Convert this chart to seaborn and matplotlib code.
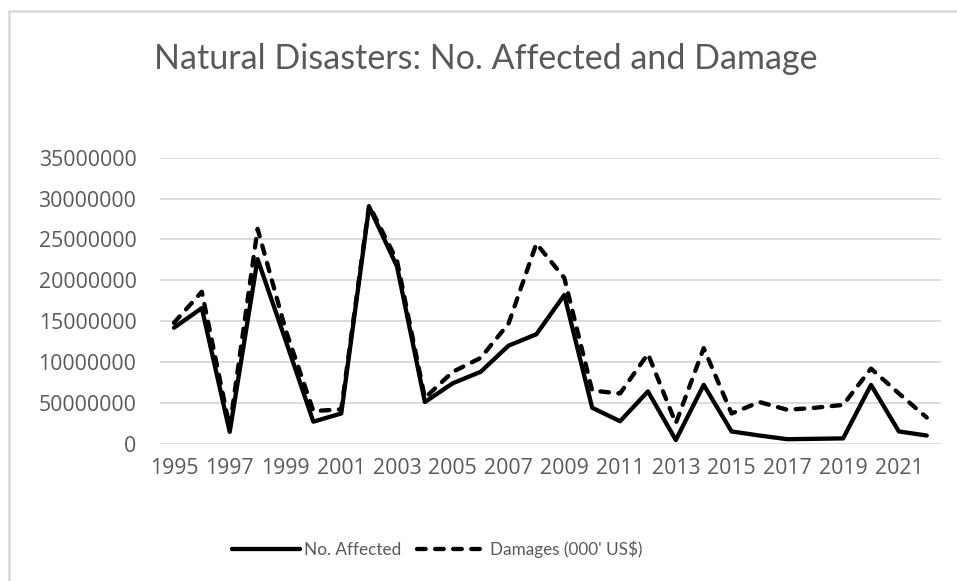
import matplotlib
matplotlib.use("Agg")
import matplotlib.pyplot as plt
from matplotlib.patches import Rectangle
import seaborn as sns
import pandas as pd

years = list(range(1995, 2023))
affected = [14.2, 16.6, 1.45, 22.6, 12.7, 2.7, 3.7, 29.0, 21.7, 5.1,
            7.4, 8.8, 12.0, 13.4, 18.2, 4.4, 2.75, 6.4, 0.45, 7.2,
            1.5, 1.0, 0.55, 0.6, 0.65, 7.2, 1.5, 1.0]
damages = [14.8, 18.6, 2.0, 26.3, 14.0, 4.0, 4.2, 29.2, 22.4, 5.6,
           8.8, 10.5, 14.7, 24.5, 20.3, 6.5, 6.15, 11.0, 2.5, 11.7,
           3.7, 5.1, 4.15, 4.4, 4.75, 9.2, 6.15, 3.2]
series_names = ["No. Affected", "Damages (000' US$)"]
title = "Natural Disasters: No. Affected and Damage"
ytick_values = [0, 5, 10, 15, 20, 25, 30, 35]
ytick_labels = ["0", "50000000", "10000000", "15000000", "20000000",
                "25000000", "30000000", "35000000"]

df = pd.DataFrame({
    "year": years * 2,
    "value": [v * 1e6 for v in affected] + [v * 1e6 for v in damages],
    "series": [series_names[0]] * len(years) + [series_names[1]] * len(years),
})

sns.set_theme(style="white")
plt.rcParams["font.family"] = ["Lato", "DejaVu Sans"]
text_color = "#595959"
grid_color = "#d9d9d9"
tick_font = ["Open Sans", "DejaVu Sans"]

fig = plt.figure(figsize=(9.57, 5.81), dpi=100)
ax = fig.add_axes([160 / 957, 137.3 / 581, 780.7 / 957, 285.9 / 581])

sns.lineplot(
    data=df, x="year", y="value", hue="series", style="series",
    palette={series_names[0]: "black", series_names[1]: "black"},
    dashes={series_names[0]: "", series_names[1]: (2.0, 2.2)},
    linewidth=3.1, ax=ax, legend=True,
)
for line in ax.lines:
    line.set_dash_capstyle("round")
    line.set_solid_capstyle("round")
    line.set_solid_joinstyle("round")

ax.set_xlim(1994.5, 2022.5)
ax.set_ylim(0, 35e6)
ax.set_xticks(list(range(1995, 2022, 2)))
ax.set_xticklabels([str(y) for y in range(1995, 2022, 2)])
ax.set_yticks([v * 1e6 for v in ytick_values])
ax.set_yticklabels(ytick_labels)
for lbl in ax.get_xticklabels() + ax.get_yticklabels():
    lbl.set_family(tick_font)
ax.yaxis.grid(True, color=grid_color, linewidth=1.3)
ax.set_axisbelow(True)
for s in ax.spines.values():
    s.set_visible(False)
ax.tick_params(axis="both", length=0, labelsize=15.3, labelcolor=text_color)
ax.tick_params(axis="y", pad=17)
ax.tick_params(axis="x", pad=10.5)
ax.set_xlabel("")
ax.set_ylabel("")

handles, labels = ax.get_legend_handles_labels()
ax.get_legend().remove()
for h in handles:
    h.set_dash_capstyle("round")
    h.set_solid_capstyle("round")
leg = fig.legend(handles, labels, loc="center", bbox_to_anchor=(437 / 957, 1 - 549 / 581),
                 ncol=2, frameon=False, fontsize=12.3, handlelength=4.0,
                 handletextpad=0.25, columnspacing=0.9, labelcolor=text_color)

fig.text(486 / 957, 1 - 59 / 581, title, ha="center", va="center",
         fontsize=24.5, color=text_color)

fig.patches.append(Rectangle((9 / 957, -0.05), 1.2, (1 - 11 / 581) + 0.05,
                             transform=fig.transFigure, fill=False,
                             edgecolor=grid_color, linewidth=1.8))

fig.savefig("out.png", dpi=100, facecolor="white")
